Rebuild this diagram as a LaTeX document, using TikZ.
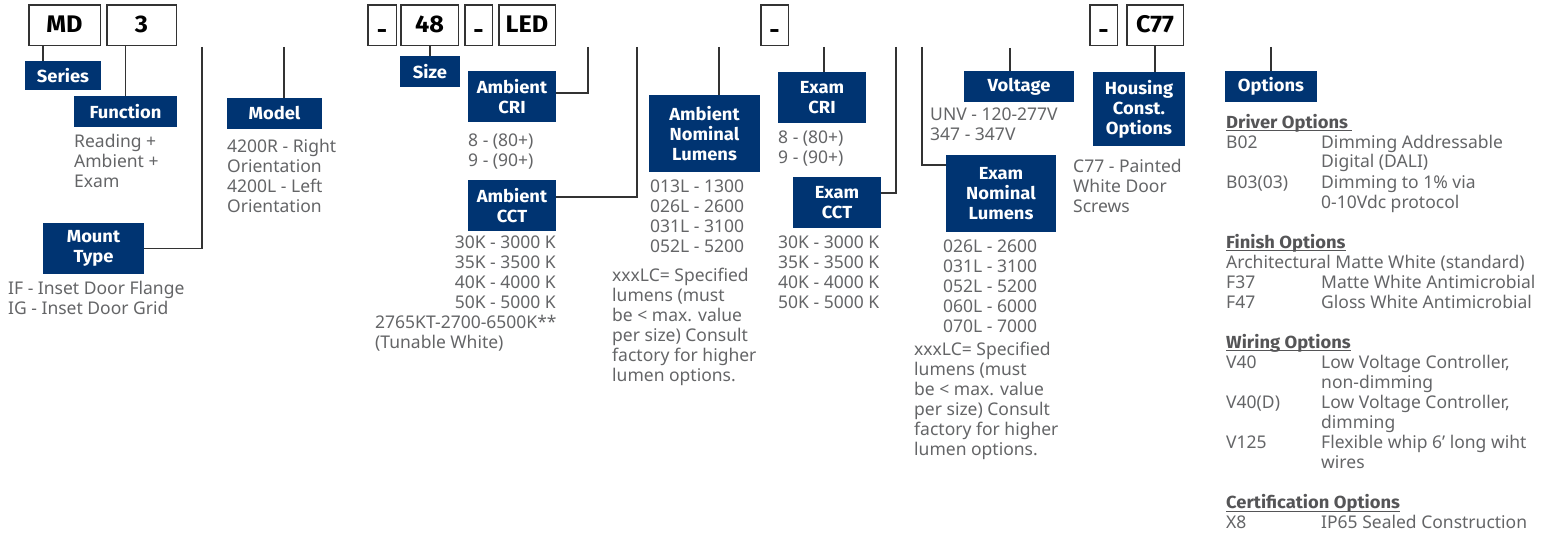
\documentclass[tikz,border=0pt]{standalone}
\usepackage{fontspec}
\setmainfont{Noto Sans}
\newfontfamily\labfam{Fira Sans}[FakeStretch=1.05]
\usetikzlibrary{calc}
\definecolor{navy}{RGB}{0,52,114}
\definecolor{txtgray}{RGB}{100,101,103}
\definecolor{hdgray}{RGB}{85,85,87}
\definecolor{linegray}{RGB}{51,51,51}
\newcommand\bodyfnt{\fontsize{17.5}{20}\selectfont}
\newcommand\labfnt{\labfam\fontsize{17.5}{20}\selectfont\bfseries}
\newcommand\codefnt{\labfam\fontsize{24}{28}\selectfont\bfseries}
\newcommand\tlines[1]{\begin{tabular}[t]{@{}l@{}}#1\end{tabular}}
\newcommand\rtlines[1]{\begin{tabular}[t]{@{}r@{}}#1\end{tabular}}
\newcommand\cd[1]{\makebox[95pt][l]{#1}}
\newcommand\uhead[1]{{\color{hdgray}\setbox0=\hbox{\labfam\bfseries #1}\rlap{\rule[-3pt]{\wd0}{1pt}}\box0}}
\tikzset{
  lab/.style={fill=navy, text=white, font=\labfnt, align=center, inner sep=0pt},
  codebx/.style={draw=linegray, line width=1.5pt, fill=white, text=black, font=\codefnt, inner sep=0pt, text height=15pt, text depth=0pt},
  txt/.style={text=txtgray, font=\bodyfnt, inner sep=0pt},
  conn/.style={draw=linegray, line width=1.5pt},
}
\newcommand\navybox[6]{\node[lab, minimum width={(#4)-(#2)}, minimum height={(#5)-(#3)}] (#1) at ({((#2)+(#4))/2},{((#3)+(#5))/2}) {#6};}
\newcommand\codebox[4]{\node[codebx, minimum width={(#3)-(#2)-1.5}, minimum height=40.5pt] (#1) at ({((#2)+(#3))/2},25.5) {#4};}
\begin{document}
\begin{tikzpicture}[x=1pt,y=-1pt]
\useasboundingbox (0,0) rectangle (1549,535);
% top code boxes
\codebox{md}{28}{101}{MD}
\codebox{three}{106}{177}{3}
\codebox{da}{367}{397}{\raisebox{-6pt}{-}}
\codebox{b48}{400}{459}{48}
\codebox{db}{464}{493}{\raisebox{-6pt}{-}}
\codebox{led}{498}{556}{LED}
\codebox{dc}{760}{789}{\raisebox{-6pt}{-}}
\codebox{dd}{1089}{1118}{\raisebox{-6pt}{-}}
\codebox{c77}{1126}{1184}{C77}
% label boxes
\navybox{series}{25}{61}{101}{90}{Series}
\navybox{func}{74}{96}{177}{127}{Function}
\navybox{model}{227}{98}{322}{129}{Model}
\navybox{mount}{43}{223}{144}{274}{Mount\\Type}
\navybox{size}{400}{56}{460}{87}{Size}
\navybox{acri}{468}{71}{556}{122}{Ambient\\CRI}
\navybox{acct}{468}{180}{556}{231}{Ambient\\CCT}
\navybox{alum}{649}{95}{760}{172}{Ambient\\Nominal\\Lumens}
\navybox{ecri}{778}{72}{866}{123}{Exam\\CRI}
\navybox{ecct}{793}{177}{881}{228}{Exam\\CCT}
\navybox{volt}{964}{71}{1074}{102}{Voltage}
\navybox{elum}{946}{155}{1056}{232}{Exam\\Nominal\\Lumens}
\navybox{house}{1093}{72}{1185}{146}{Housing\\Const.\\Options}
\navybox{opt}{1225}{71}{1317}{102}{Options}
% free connector ends
\coordinate (cmodel) at (284,47);
\coordinate (cmount) at (202,47);
\coordinate (cacri) at (588,47);
\coordinate (cacct) at (637,47);
\coordinate (calum) at (719,47);
\coordinate (cecri) at (824,47);
\coordinate (cecct) at (896,47);
\coordinate (celum) at (922,47);
\coordinate (cvolt) at (1010,48);
\coordinate (copt) at (1271,47);
% connectors
\draw[conn] ([xshift=18pt]series.north west) -- ([xshift=18pt]series.north west |- md.south);
\draw[conn] (func.north) -- (func.north |- three.south);
\draw[conn] (cmodel) -- (cmodel |- model.north);
\draw[conn] (cmount) |- (mount.east);
\draw[conn] (size.north) -- (size.north |- b48.south);
\draw[conn] (cacri) |- ([yshift=3.5pt]acri.east);
\draw[conn] (cacct) |- ([yshift=8.5pt]acct.east);
\draw[conn] (calum) -- (calum |- alum.north);
\draw[conn] (cecri) -- (cecri |- ecri.north);
\draw[conn] (cecct) |- ([yshift=9.5pt]ecct.east);
\draw[conn] (celum) |- ([yshift=28.5pt]elum.west);
\draw[conn] (cvolt) -- (cvolt |- volt.north);
\draw[conn] (c77.south) -- (c77.south |- house.north);
\draw[conn] (copt) -- (opt.north);
% texts
\node[txt, anchor=base west] (tfunc) at (74,147) {\tlines{Reading +\\Ambient +\\Exam}};
\node[txt, anchor=base west] (tmodel) at (227,152) {\tlines{4200R - Right\\Orientation\\4200L - Left\\Orientation}};
\node[txt, anchor=base west] (tmount) at (8,294) {\tlines{IF - Inset Door Flange\\IG - Inset Door Grid}};
\node[txt, anchor=base west] (tacri) at (468,146) {\tlines{8 - (80+)\\9 - (90+)}};
\node[txt, anchor=base east] (tacct) at (556,248) {\rtlines{30K - 3000 K\\35K - 3500 K\\40K - 4000 K\\50K - 5000 K}};
\node[txt, anchor=base west] (tacctw) at (375,328) {\tlines{2765KT-2700-6500K**\\(Tunable White)}};
\node[txt, anchor=base west] (talum) at (650,192) {\tlines{013L - 1300\\026L - 2600\\031L - 3100\\052L - 5200}};
\node[txt, anchor=base west] (talumx) at (612,281) {\tlines{xxxLC= Specified\\lumens (must\\be < max. value\\per size) Consult\\factory for higher\\lumen options.}};
\node[txt, anchor=base west] (tecri) at (778,143) {\tlines{8 - (80+)\\9 - (90+)}};
\node[txt, anchor=base west] (tecct) at (778,248) {\tlines{30K - 3000 K\\35K - 3500 K\\40K - 4000 K\\50K - 5000 K}};
\node[txt, anchor=base west] (tvolt) at (930,120) {\tlines{UNV - 120-277V\\347 - 347V}};
\node[txt, anchor=base west] (telum) at (943,252) {\tlines{026L - 2600\\031L - 3100\\052L - 5200\\060L - 6000\\070L - 7000}};
\node[txt, anchor=base west] (telumx) at (914,355) {\tlines{xxxLC= Specified\\lumens (must\\be < max. value\\per size) Consult\\factory for higher\\lumen options.}};
\node[txt, anchor=base west] (thouse) at (1073,172) {\tlines{C77 - Painted\\White Door\\Screws}};
\node[txt, anchor=base west] (topt) at (1226,128) {\tlines{%
\uhead{Driver Options }\\
\cd{B02}Dimming Addressable\\
\cd{}Digital (DALI)\\
\cd{B03(03)}Dimming to 1\% via\\
\cd{}0-10Vdc protocol\\
\\
\uhead{Finish Options}\\
Architectural Matte White (standard)\\
\cd{F37}Matte White Antimicrobial\\
\cd{F47}Gloss White Antimicrobial\\
\\
\uhead{Wiring Options}\\
\cd{V40}Low Voltage Controller,\\
\cd{}non-dimming\\
\cd{V40(D)}Low Voltage Controller,\\
\cd{}dimming\\
\cd{V125}Flexible whip 6’ long wiht\\
\cd{}wires\\
\\
\uhead{Certification Options}\\
\cd{X8}IP65 Sealed Construction}};
\end{tikzpicture}
\end{document}
